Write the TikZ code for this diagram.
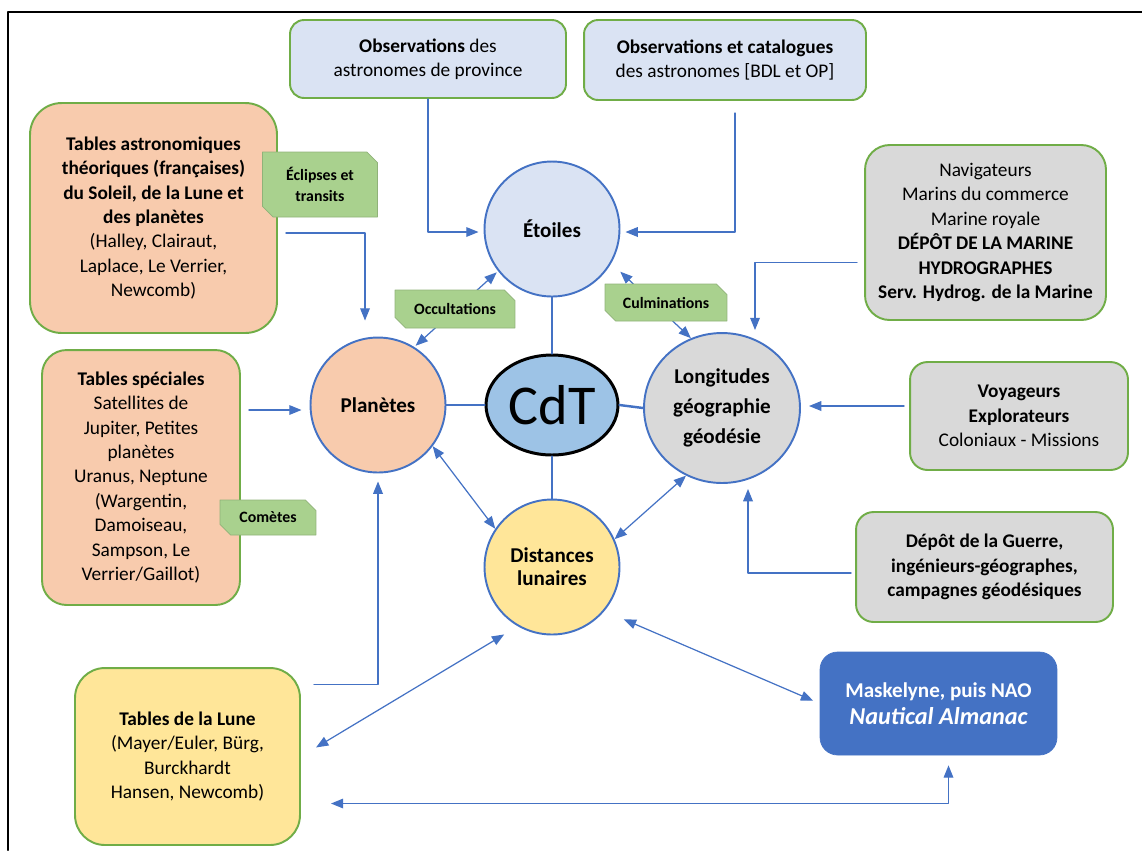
\documentclass[tikz,border=0pt]{standalone}
\usepackage{fontspec}
\setmainfont{Carlito}
\usetikzlibrary{arrows.meta,calc,shapes.misc,shapes.geometric}
\definecolor{lineBlue}{HTML}{4472C4}
\definecolor{boxGreen}{HTML}{70AD47}
\definecolor{tagGreen}{HTML}{A9D18E}
\definecolor{paleBlue}{HTML}{DAE3F3}
\definecolor{paleOrange}{HTML}{F8CBAD}
\definecolor{paleGrey}{HTML}{D9D9D9}
\definecolor{paleYellow}{HTML}{FFE699}
\definecolor{cdtBlue}{HTML}{9DC3E6}
\begin{document}
\begin{tikzpicture}[x=0.02cm,y=-0.02cm,line cap=round,line join=round,
  every node/.style={inner sep=1pt,align=center,font=\fontsize{11}{13.9}\selectfont},
  box/.style={draw=boxGreen,line width=1.1pt},
  tag/.style={chamfered rectangle,chamfered rectangle corners={north east,south west},
    chamfered rectangle xsep=3pt,chamfered rectangle ysep=3pt,inner sep=0pt,
    fill=tagGreen,draw=tagGreen!85!black,line width=0.4pt,
    font=\bfseries\fontsize{9}{12}\selectfont},
  ball/.style={circle,draw=lineBlue,line width=1.1pt,minimum size=2.7cm,
    font=\bfseries\fontsize{12}{13.2}\selectfont},
  arr/.style={draw=lineBlue,line width=0.7pt,-{Triangle[length=7pt,width=5.5pt]}},
  biarr/.style={draw=lineBlue,line width=0.7pt,{Triangle[length=7pt,width=5.5pt]}-{Triangle[length=7pt,width=5.5pt]}},
  spoke/.style={draw=lineBlue,line width=1.4pt}]
  \useasboundingbox (0,0) rectangle (1142,850);
  \draw[line width=1.4pt] (8,850) -- (8,12) -- (1142,12);

  % sources
  \node[box,fill=paleBlue,rounded corners=8pt,minimum width=5.52cm,minimum height=1.56cm] (obsProv) at (428,59)
    {\textbf{Observations} des\\astronomes de province};
  \node[box,fill=paleBlue,rounded corners=8pt,minimum width=5.64cm,minimum height=1.6cm] (obsCat) at (725,60)
    {\textbf{Observations et catalogues}\\des astronomes [BDL et OP]};
  \node[box,fill=paleOrange,rounded corners=18pt,minimum width=4.94cm,minimum height=4.6cm] (tabAstro) at (153.5,218)
    {\textbf{Tables astronomiques}\\\textbf{théoriques (françaises)}\\\textbf{du Soleil, de la Lune et}\\\textbf{des planètes}\\(Halley, Clairaut,\\Laplace, Le Verrier,\\Newcomb)};
  \node[box,fill=paleOrange,rounded corners=14pt,minimum width=3.96cm,minimum height=5.1cm] (tabSpec) at (141,477.5)
    {\textbf{Tables spéciales}\\Satellites de\\Jupiter, Petites\\planètes\\Uranus, Neptune\\(Wargentin,\\Damoiseau,\\Sampson, Le\\Verrier/Gaillot)};
  \node[box,fill=paleYellow,rounded corners=17pt,minimum width=4.5cm,minimum height=3.54cm] (tabLune) at (187.5,756.5)
    {\textbf{Tables de la Lune}\\(Mayer/Euler, Bürg,\\Burckhardt\\Hansen, Newcomb)};
  \node[box,fill=paleGrey,rounded corners=14pt,minimum width=4.82cm,minimum height=3.5cm] (navig) at (985.5,232.5)
    {Navigateurs\\Marins du commerce\\Marine royale\\\textbf{DÉPÔT DE LA MARINE}\\\textbf{HYDROGRAPHES}\\\textbf{Serv. Hydrog. de la Marine}};
  \node[box,fill=paleGrey,rounded corners=10pt,minimum width=4.36cm,minimum height=2.16cm] (voyag) at (1019,416)
    {\textbf{Voyageurs}\\\textbf{Explorateurs}\\Coloniaux - Missions};
  \node[box,fill=paleGrey,rounded corners=10pt,minimum width=5.14cm,minimum height=2.2cm] (guerre) at (984.5,567)
    {\textbf{Dépôt de la Guerre,}\\\textbf{ingénieurs-géographes,}\\\textbf{campagnes géodésiques}};
  \node[draw=lineBlue,fill=lineBlue,text=white,rounded corners=10pt,minimum width=4.74cm,minimum height=2.06cm,
    font=\bfseries\fontsize{12}{15}\selectfont] (mask) at (938.5,703.5)
    {Maskelyne, puis NAO\\{\itshape\fontsize{13.8}{15}\selectfont Nautical Almanac}};

  % centre
  \node[ball,fill=paleBlue] (etoiles) at (552,229) {Étoiles};
  \node[ball,fill=paleOrange] (planetes) at (378,405) {Planètes};
  \node[ball,fill=paleYellow] (dist) at (552,567) {Distances\\lunaires};
  \node[ellipse,draw=lineBlue,fill=paleGrey,line width=1.1pt,minimum width=3.12cm,minimum height=3cm,
    font=\bfseries\fontsize{12}{17}\selectfont] (longit) at (722,408) {Longitudes\\géographie\\géodésie};
  \node[ellipse,draw=black,fill=cdtBlue,line width=1.7pt,minimum width=2.64cm,minimum height=2cm,
    font=\fontsize{32}{32}\selectfont] (cdt) at (552,405) {CdT};

  \draw[spoke] (etoiles.south) -- (cdt.north);
  \draw[spoke] (planetes.east) -- (cdt.west);
  \draw[spoke] (cdt.east) -- (longit.west);
  \draw[spoke] (cdt.south) -- (dist.north);

  \draw[arr] (obsProv.south) |- ($(etoiles.west)+(-5,3)$);
  \draw[arr] ($(obsCat.south)+(10,12)$) |- ($(etoiles.east)+(5,3)$);
  \draw[arr] ($(tabAstro.east)+(8,15)$) -| ($(planetes.north)+(-13,-16)$);
  \draw[arr] ($(navig.west)+(-7,30)$) -| ($(longit.north)+(33,-2)$);
  \draw[arr] ($(tabSpec.east|-planetes.west)+(8,5)$) -- ($(planetes.west)+(-8,5)$);
  \draw[arr] ($(voyag.west|-longit.east)+(-5,-2)$) -- ($(longit.east)+(8,-2)$);
  \draw[arr] ($(guerre.west)+(-4,6)$) -| ($(longit.south)+(26,5)$);
  \draw[arr] ($(tabLune.east)+(13,-72)$) -| ($(planetes.south)+(0,8)$);
  \draw[biarr] ($(tabLune.east)+(30,47)$) -| ($(mask.south)+(10,10)$);

  \draw[biarr,shorten <=1pt,shorten >=1pt] (planetes.58) -- (etoiles.218);
  \draw[biarr,shorten <=7pt] (etoiles.330) -- (longit.114);
  \draw[biarr] (planetes.323) -- (dist.146);
  \draw[biarr] (longit.242) -- (dist.24);
  \draw[biarr,shorten <=12pt,shorten >=4pt] (dist.320) -- (mask.west);
  \draw[biarr,shorten <=9pt,shorten >=10pt] (dist.240) -- (tabLune.east);

  % tags
  \node[tag,minimum width=2.3cm,minimum height=1.3cm] (eclip) at (320,184.5) {Éclipses et\\transits};
  \node[tag,minimum width=2.4cm,minimum height=0.76cm] (occult) at (455,309) {Occultations};
  \node[tag,minimum width=2.44cm,minimum height=0.74cm] (culmin) at (666,302.5) {Culminations};
  \node[tag,minimum width=1.92cm,minimum height=0.7cm] (comet) at (268,517.5) {Comètes};
\end{tikzpicture}
\end{document}
